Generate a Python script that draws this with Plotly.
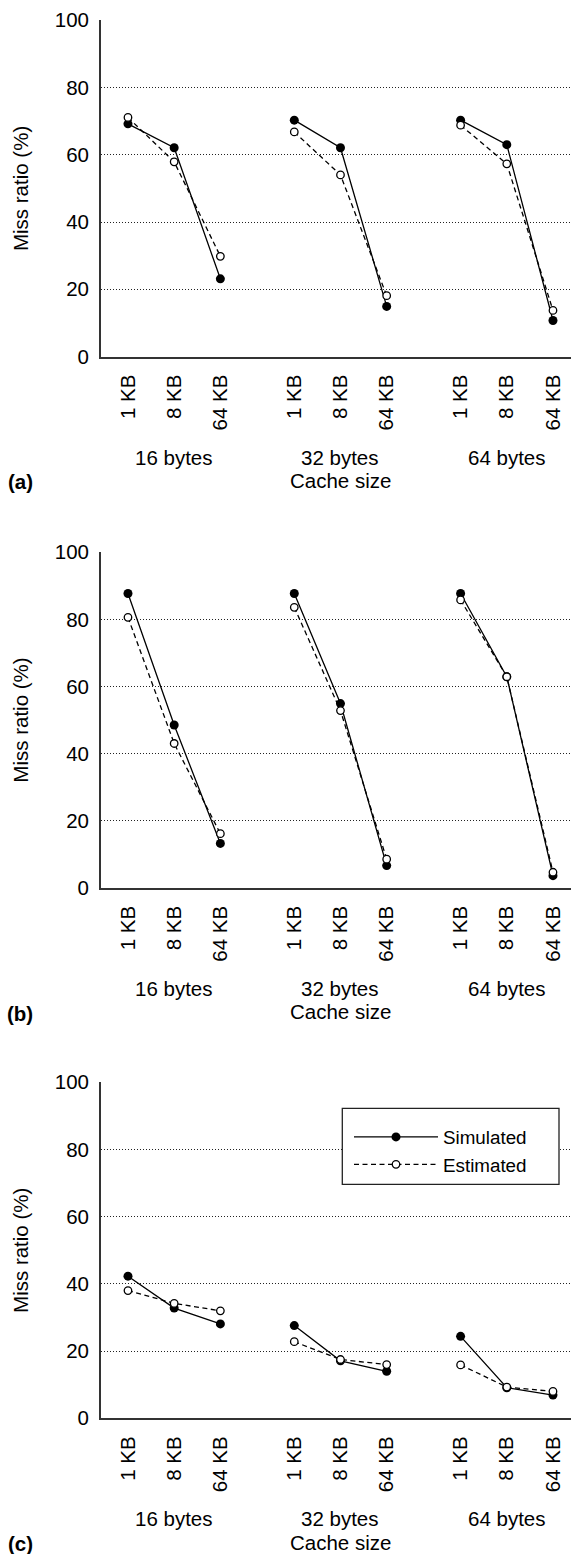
import plotly.graph_objects as go

# ---------------- data ----------------
block_sizes = ["16 bytes", "32 bytes", "64 bytes"]
cache_sizes = ["1 KB", "8 KB", "64 KB"]
panel_labels = ["(a)", "(b)", "(c)"]
series_names = ["Simulated", "Estimated"]
y_ticks = [0, 20, 40, 60, 80, 100]

# order: 16 bytes (1 KB, 8 KB, 64 KB), 32 bytes (...), 64 bytes (...)
sim_a = [69.2, 62.1, 23.1, 70.3, 62.1, 14.9, 70.3, 63.0, 10.7]
est_a = [71.1, 57.9, 29.8, 66.8, 54.0, 18.1, 68.8, 57.3, 13.7]
sim_b = [87.7, 48.5, 13.2, 87.7, 54.9, 6.6, 87.7, 62.9, 3.6]
est_b = [80.6, 43.0, 16.1, 83.6, 52.8, 8.5, 85.8, 62.9, 4.6]
sim_c = [42.3, 32.8, 28.1, 27.6, 17.1, 14.0, 24.4, 9.1, 6.9]
est_c = [38.0, 34.2, 32.0, 22.8, 17.5, 16.0, 15.9, 9.3, 8.0]

panels = [(sim_a, est_a), (sim_b, est_b), (sim_c, est_c)]

# ---------------- layout geometry (px) ----------------
W, H = 571, 1554
LEFT = 101
PW = W - LEFT
panel_px = [(20.3, 356.5), (552.3, 887.7), (1082.3, 1418.3)]
GROUP_STEP = 3.6
X_RANGE = [-0.584, 9.59]
FONT = "Liberation Sans, Arial, Helvetica, sans-serif"
FS = 20.5
LEG_BOX = (342.3, 1108.3, 559.0, 1184.3)  # x0, y0, x1, y1 in px

def xpos(g, i):
    return g * GROUP_STEP + i

def px_x(px):
    return (px - LEFT) / PW

def px_y(py):
    return 1 - py / H

tick_x = [xpos(g, i) for g in range(len(block_sizes)) for i in range(len(cache_sizes))]
tick_text = [c for _ in block_sizes for c in cache_sizes]

def with_gaps(vals):
    xs, ys = [], []
    n = len(cache_sizes)
    for g in range(len(block_sizes)):
        for i in range(n):
            xs.append(xpos(g, i))
            ys.append(vals[g * n + i])
        xs.append(None)
        ys.append(None)
    return xs, ys

fig = go.Figure()
annotations = []
layout_axes = {}

for p, (sim, est) in enumerate(panels):
    ax = "" if p == 0 else str(p + 1)
    xa, ya = "x" + ax, "y" + ax
    xs, ys = with_gaps(sim)
    fig.add_trace(go.Scatter(
        x=xs, y=ys, mode="lines+markers", name=series_names[0],
        legendgroup="sim", showlegend=(p == 2),
        line=dict(color="black", width=1.3),
        marker=dict(symbol="circle", size=9, color="black", line=dict(width=0)),
        xaxis=xa, yaxis=ya))
    xs, ys = with_gaps(est)
    fig.add_trace(go.Scatter(
        x=xs, y=ys, mode="lines+markers", name=series_names[1],
        legendgroup="est", showlegend=(p == 2),
        line=dict(color="black", width=1.3, dash="5px,3.5px"),
        marker=dict(symbol="circle", size=7.5, color="white",
                    line=dict(color="black", width=1.3)),
        xaxis=xa, yaxis=ya))

    top, bot = panel_px[p]
    dom = [px_y(bot), px_y(top)]
    layout_axes["xaxis" + ax] = dict(
        domain=[0, 1], anchor=ya, range=X_RANGE, automargin=False,
        tickmode="array", tickvals=tick_x, ticktext=tick_text, tickangle=-90,
        showgrid=False, zeroline=False, showline=True, linecolor="#333", linewidth=1.8,
        ticks="", ticklabelstandoff=8,
        tickfont=dict(family=FONT, size=FS, color="black"))
    layout_axes["yaxis" + ax] = dict(
        domain=dom, anchor=xa, range=[0, 100], automargin=False,
        tickmode="array", tickvals=y_ticks,
        showgrid=True, gridcolor="#222", gridwidth=1, griddash="1px,2px",
        zeroline=False, showline=True, linecolor="#333", linewidth=1.8,
        ticks="", ticklabelstandoff=6,
        tickfont=dict(family=FONT, size=FS, color="black"),
        title=dict(text="Miss ratio (%)", standoff=21,
                   font=dict(family=FONT, size=FS, color="black")))

    for g, b in enumerate(block_sizes):
        annotations.append(dict(
            text=b, x=xpos(g, 1), xref=xa, y=px_y(bot + 100.5), yref="paper",
            xanchor="center", yanchor="middle", showarrow=False,
            font=dict(family=FONT, size=FS, color="black")))
    annotations.append(dict(
        text="Cache size", x=xpos(1, 1), xref=xa, y=px_y(bot + 124), yref="paper",
        xanchor="center", yanchor="middle", showarrow=False,
        font=dict(family=FONT, size=FS, color="black")))
    annotations.append(dict(
        text="<b>" + panel_labels[p] + "</b>", x=px_x(20), xref="paper",
        y=px_y(bot + 125.5), yref="paper",
        xanchor="center", yanchor="middle", showarrow=False,
        font=dict(family=FONT, size=FS, color="black")))

# legend frame (white box with black border, drawn over the gridlines)
shapes = [dict(type="rect", xref="paper", yref="paper",
               x0=px_x(LEG_BOX[0]), x1=px_x(LEG_BOX[2]),
               y0=px_y(LEG_BOX[3]), y1=px_y(LEG_BOX[1]),
               line=dict(color="#222", width=1.3), fillcolor="white", layer="above")]

fig.update_layout(
    width=W, height=H,
    margin=dict(l=LEFT, r=0, t=0, b=0, pad=0, autoexpand=False),
    paper_bgcolor="white", plot_bgcolor="white",
    font=dict(family=FONT, size=FS, color="black"),
    annotations=annotations,
    shapes=shapes,
    legend=dict(x=px_x(349), y=px_y(1118.2),
                xanchor="left", yanchor="top",
                borderwidth=0, bgcolor="rgba(0,0,0,0)",
                font=dict(family=FONT, size=18.8, color="black"),
                itemwidth=84, tracegroupgap=0),
    **layout_axes)

fig.write_html("out.html", config={"displayModeBar": False},
               post_script="document.body.style.margin='0';document.body.style.overflow='hidden';")
